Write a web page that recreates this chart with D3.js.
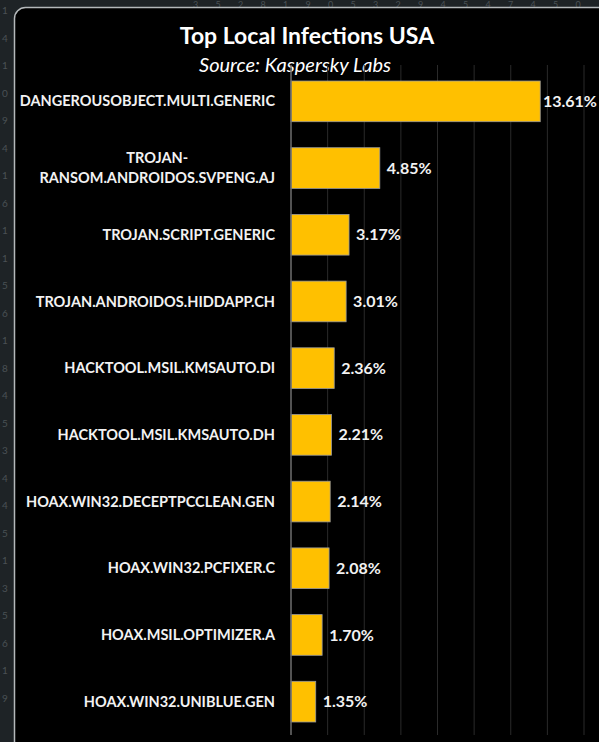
<!DOCTYPE html>
<html>
<head>
<meta charset="utf-8">
<script src="https://cdn.jsdelivr.net/npm/d3@7"></script>
<style>
  html, body { margin: 0; padding: 0; background: #1e2326; }
  svg { display: block; font-family: Lato, "Liberation Sans", sans-serif; }
</style>
</head>
<body>
<div id="chart"></div>
<script>
 // chart data
 const categories = [
     "DANGEROUSOBJECT.MULTI.GENERIC",
     "TROJAN-|RANSOM.ANDROIDOS.SVPENG.AJ",
     "TROJAN.SCRIPT.GENERIC",
     "TROJAN.ANDROIDOS.HIDDAPP.CH",
     "HACKTOOL.MSIL.KMSAUTO.DI",
     "HACKTOOL.MSIL.KMSAUTO.DH",
     "HOAX.WIN32.DECEPTPCCLEAN.GEN",
     "HOAX.WIN32.PCFIXER.C",
     "HOAX.MSIL.OPTIMIZER.A",
     "HOAX.WIN32.UNIBLUE.GEN"
 ];
 const values = [13.61, 4.85, 3.17, 3.01, 2.36, 2.21, 2.14, 2.08, 1.70, 1.35];
 const gridTicks = [0, 2, 4, 6, 8, 10, 12, 14, 16];

 const title = "Top Local Infections USA";
 const subtitle = "Source: Kaspersky Labs";

 // decorative digits around the panel
 const topDigits = "3 5 2 8 1 9 0 5 3 2 9 4 5 4 7 4 5 0".split(" ");
 const leftDigits = "1 4 1 0 9 4 1 6 1 1 5 6 1 8 4 5 3 4 4 5 1 3 5 6 1 9".split(" ");

 const width = 599;
 const height = 742;

 const svg = d3.select("#chart")
     .append("svg")
     .attr("width", width)
     .attr("height", height);

 // background
 svg.append("rect")
     .attr("width", width)
     .attr("height", height)
     .attr("fill", "#1e2326");

 // faint digits
 svg.selectAll("text.topdigit")
     .data(topDigits)
     .enter().append("text")
     .attr("class", "topdigit")
     .attr("x", (d, i) => 193 + i * 22.5)
     .attr("y", 8)
     .attr("font-size", 9)
     .attr("fill", "#4a5155")
     .text(d => d);

 svg.selectAll("text.leftdigit")
     .data(leftDigits)
     .enter().append("text")
     .attr("class", "leftdigit")
     .attr("x", 2)
     .attr("y", (d, i) => 14 + i * 27.5)
     .attr("font-size", 10)
     .attr("fill", "#4a5155")
     .text(d => d);

 // black panel
 svg.append("rect")
     .attr("x", 14.5)
     .attr("y", 7.5)
     .attr("width", 595)
     .attr("height", 760)
     .attr("rx", 11)
     .attr("fill", "#000")
     .attr("stroke", "#b4b8ba")
     .attr("stroke-width", 1.5);

 // titles
 svg.append("text")
     .attr("x", 307)
     .attr("y", 44)
     .attr("text-anchor", "middle")
     .attr("font-size", 23)
     .attr("font-weight", "bold")
     .attr("fill", "#fff")
     .text(title);

 svg.append("text")
     .attr("x", 295)
     .attr("y", 72)
     .attr("text-anchor", "middle")
     .attr("font-size", 20)
     .attr("font-style", "italic")
     .attr("fill", "#fff")
     .text(subtitle);

 // scales
 const x = d3.scaleLinear()
     .domain([0, 16])
     .range([291, 584]);

 const y = d3.scaleBand()
     .domain(categories)
     .range([68, 735])
     .paddingInner(0.39)
     .paddingOuter(0.195);

 // gridlines
 svg.append("g")
     .selectAll("line")
     .data(gridTicks.slice(1))
     .enter().append("line")
     .attr("x1", d => x(d))
     .attr("x2", d => x(d))
     .attr("y1", 65)
     .attr("y2", 735)
     .attr("stroke", "#2a2a2a")
     .attr("stroke-width", 1);

 // bars
 svg.append("g")
     .selectAll("rect")
     .data(values)
     .enter().append("rect")
     .attr("x", x(0))
     .attr("y", (d, i) => y(categories[i]))
     .attr("width", d => x(d) - x(0))
     .attr("height", y.bandwidth())
     .attr("fill", "#ffc000")
     .attr("stroke", "#9a9a9a")
     .attr("stroke-width", 0.8);

 // y axis line
 svg.append("line")
     .attr("x1", x(0))
     .attr("x2", x(0))
     .attr("y1", 65)
     .attr("y2", 735)
     .attr("stroke", "#6e6e6e")
     .attr("stroke-width", 1.5);

 // value labels
 svg.append("g")
     .selectAll("text")
     .data(values)
     .enter().append("text")
     .attr("y", (d, i) => y(categories[i]) + y.bandwidth() / 2)
     .attr("dy", "0.35em")
     .attr("font-size", 16)
     .attr("font-weight", "bold")
     .attr("fill", "#f2f2f2")
     .text(d => d.toFixed(2) + "%")
     .each(function(d) {
         const w = this.getComputedTextLength();
         d3.select(this).attr("x", Math.min(x(d) + 7, 597 - w));
     });

 // category labels, right aligned, wrapped lines centred on each other
 const labelEnd = 275;
 categories.forEach((c, i) => {
     const lines = c.split("|");
     const cy = y(c) + y.bandwidth() / 2;
     const g = svg.append("text")
         .attr("font-size", 14.5)
         .attr("font-weight", "bold")
         .attr("fill", "#f2f2f2")
         .attr("text-anchor", "end");
     if (lines.length === 1) {
         g.attr("x", labelEnd).attr("y", cy).attr("dy", "0.35em").text(c);
     } else {
         g.attr("text-anchor", "middle");
         const spans = lines.map((l, k) => g.append("tspan")
             .attr("y", cy + (k - (lines.length - 1) / 2) * 20)
             .attr("dy", "0.35em")
             .text(l));
         const maxW = d3.max(spans, s => s.node().getComputedTextLength());
         spans.forEach(s => s.attr("x", labelEnd - maxW / 2));
     }
 });
</script>
</body>
</html>
